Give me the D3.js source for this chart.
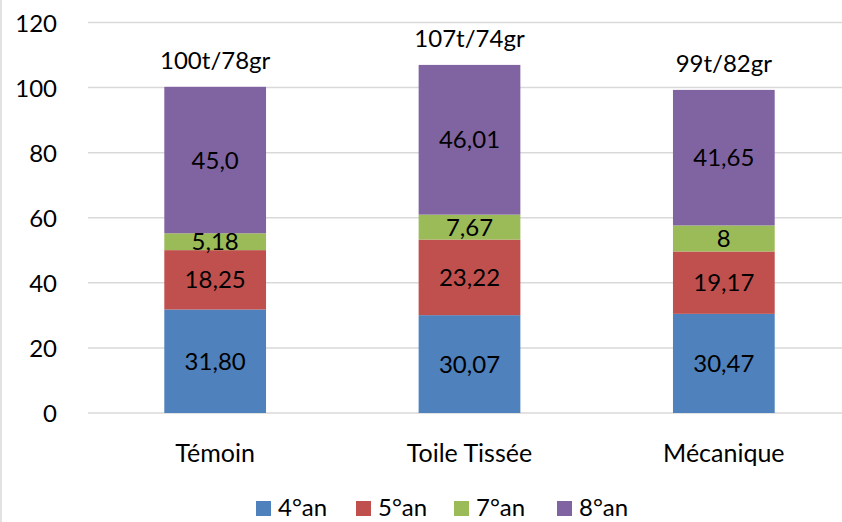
<!DOCTYPE html>
<html>
<head>
<meta charset="utf-8">
<script src="https://cdn.jsdelivr.net/npm/d3@7"></script>
<style>
  body { margin: 0; background: #fff; }
  text { font-family: Lato, "Open Sans", sans-serif; fill: #000; }
</style>
</head>
<body>
<div id="canvas"></div>
<script>
const categories = ["Témoin", "Toile Tissée", "Mécanique"];
const series = ["4°an", "5°an", "7°an", "8°an"];
const values4 = [31.80, 30.07, 30.47];
const values5 = [18.25, 23.22, 19.17];
const values7 = [5.18, 7.67, 8];
const values8 = [45.0, 46.01, 41.65];
const labels4 = ["31,80", "30,07", "30,47"];
const labels5 = ["18,25", "23,22", "19,17"];
const labels7 = ["5,18", "7,67", "8"];
const labels8 = ["45,0", "46,01", "41,65"];
const totalLabels = ["100t/78gr", "107t/74gr", "99t/82gr"];
const yTicks = [0, 20, 40, 60, 80, 100, 120];
const colors = ["#4f81bd", "#c0504d", "#9bbb59", "#8064a2"];

const width = 842, height = 522;
const margin = { top: 22.5, left: 88, bottom: 109, right: -9 };
const fs = "24px";

const svg = d3.select("#canvas").append("svg")
  .attr("width", width).attr("height", height);

// chart border on the left
svg.append("line").attr("x1", 1).attr("x2", 1).attr("y1", 0).attr("y2", height)
  .attr("stroke", "#d9d9d9").attr("stroke-width", 1.5);

const x = d3.scaleBand()
  .domain(categories)
  .range([margin.left, width - margin.right])
  .paddingInner(0.6).paddingOuter(0.3);

const y = d3.scaleLinear()
  .domain([0, 120])
  .range([height - margin.bottom, margin.top]);

// gridlines
svg.append("g").selectAll("line").data(yTicks).enter().append("line")
  .attr("x1", margin.left).attr("x2", width)
  .attr("y1", d => y(d)).attr("y2", d => y(d))
  .attr("stroke", "#d9d9d9").attr("stroke-width", 1.5);

// y axis labels
const yAxis = svg.append("g")
  .attr("transform", `translate(${margin.left - 31},0)`)
  .call(d3.axisLeft(y).tickValues(yTicks).tickSize(0).tickPadding(0));
yAxis.select(".domain").remove();
yAxis.selectAll("text").style("font-size", fs).attr("dy", "0.36em")
  .style("font-family", "Lato, 'Open Sans', sans-serif");

const rows = categories.map((c, i) => ({
  cat: c, "4°an": values4[i], "5°an": values5[i], "7°an": values7[i], "8°an": values8[i]
}));
const segLabels = [labels4, labels5, labels7, labels8];
const stack = d3.stack().keys(series)(rows);

const layers = svg.selectAll("g.layer").data(stack).enter().append("g")
  .attr("class", "layer").attr("fill", (d, i) => colors[i]);

layers.selectAll("rect").data(d => d).enter().append("rect")
  .attr("x", d => x(d.data.cat))
  .attr("y", d => y(d[1]))
  .attr("width", x.bandwidth())
  .attr("height", d => y(d[0]) - y(d[1]));

stack.forEach((layer, si) => {
  svg.append("g").selectAll("text").data(layer).enter().append("text")
    .attr("x", d => x(d.data.cat) + x.bandwidth() / 2)
    .attr("y", d => (y(d[0]) + y(d[1])) / 2)
    .attr("dy", "0.36em")
    .attr("text-anchor", "middle")
    .style("font-size", fs)
    .text((d, i) => segLabels[si][i]);
});

// totals above bars
const topLayer = stack[stack.length - 1];
svg.append("g").selectAll("text").data(topLayer).enter().append("text")
  .attr("x", d => x(d.data.cat) + x.bandwidth() / 2)
  .attr("y", d => y(d[1]) - 18)
  .attr("text-anchor", "middle")
  .style("font-size", fs)
  .text((d, i) => totalLabels[i]);

// category labels
svg.append("g").selectAll("text").data(categories).enter().append("text")
  .attr("x", d => x(d) + x.bandwidth() / 2)
  .attr("y", y(0) + 49)
  .attr("text-anchor", "middle")
  .style("font-size", "25px")
  .text(d => d);

// legend
const legendX = [256, 356, 454, 557];
const legend = svg.append("g").selectAll("g").data(series).enter().append("g")
  .attr("transform", (d, i) => `translate(${legendX[i]},501)`);
legend.append("rect").attr("width", 15).attr("height", 15)
  .attr("fill", (d, i) => colors[i]);
legend.append("text").attr("x", 22).attr("y", 15)
  .style("font-size", "24px").text(d => d);
</script>
</body>
</html>
